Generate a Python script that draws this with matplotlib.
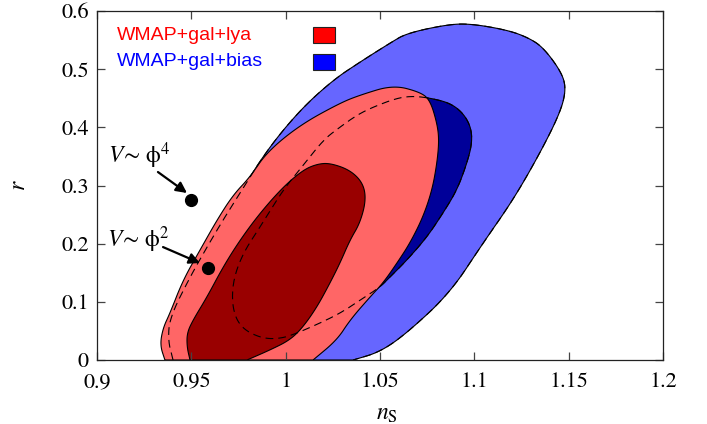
import numpy as np
import matplotlib
matplotlib.use("Agg")
import matplotlib.pyplot as plt
from matplotlib.patches import Polygon, Rectangle

# contour outlines, (n_s, r) pairs
bias95_ns = [0.9403, 0.9376, 0.9387, 0.9493, 0.9583, 0.9668, 0.9758, 0.9901, 1.0076,
             1.0251, 1.0394, 1.0553, 1.0643, 1.0871, 1.0993, 1.1173, 1.1279, 1.1364,
             1.1465, 1.1486, 1.1454, 1.1348, 1.1205, 1.1046, 1.0871, 1.0643, 1.0500, 1.0357]
bias95_r = [0.0, 0.0344, 0.0739, 0.1427, 0.1942, 0.2407, 0.2871, 0.3610, 0.4298,
            0.4813, 0.5123, 0.5449, 0.5621, 0.5776, 0.5776, 0.5673, 0.5552, 0.5380,
            0.4934, 0.4641, 0.4246, 0.3558, 0.2750, 0.2011, 0.1152, 0.0464, 0.0138, 0.0]

bias68_ns = [1.0675, 1.0765, 1.0871, 1.0940, 1.0982, 1.0988, 1.0961, 1.0908, 1.0834,
             1.0749, 1.0643, 1.0553, 1.0500, 1.0420, 1.0341, 1.0251, 1.0076, 0.9970,
             0.9864, 0.9758, 0.9716, 0.9721, 0.9774, 0.9864, 0.9986, 1.0060, 1.0198,
             1.0288, 1.0378, 1.0463, 1.0590]
bias68_r = [0.4538, 0.4504, 0.4418, 0.4246, 0.4005, 0.3730, 0.3386, 0.2922, 0.2527,
            0.2114, 0.1719, 0.1427, 0.1255, 0.1083, 0.0911, 0.0739, 0.0481, 0.0361,
            0.0378, 0.0567, 0.0911, 0.1375, 0.1839, 0.2286, 0.2922, 0.3215, 0.3782,
            0.4005, 0.4212, 0.4349, 0.4504]

lya95_ns = [0.9360, 0.9334, 0.9350, 0.9387, 0.9456, 0.9546, 0.9636, 0.9721, 0.9811,
            0.9901, 1.0076, 1.0288, 1.0394, 1.0569, 1.0712, 1.0765, 1.0802, 1.0813,
            1.0802, 1.0776, 1.0728, 1.0659, 1.0590, 1.0516, 1.0447, 1.0341, 1.0272, 1.0145]
lya95_r = [0.0, 0.0258, 0.0550, 0.0808, 0.1375, 0.1891, 0.2407, 0.2836, 0.3146,
           0.3576, 0.4040, 0.4418, 0.4555, 0.4727, 0.4607, 0.4469, 0.4074, 0.3782,
           0.3386, 0.2922, 0.2458, 0.2011, 0.1667, 0.1324, 0.1083, 0.0688, 0.0344, 0.0]

lya68_ns = [0.9493, 0.9477, 0.9477, 0.9509, 0.9583, 0.9668, 0.9758, 0.9864, 0.9986,
            1.0092, 1.0166, 1.0235, 1.0341, 1.0410, 1.0426, 1.0394, 1.0341, 1.0288,
            1.0235, 1.0166, 1.0092, 1.0023, 0.9917, 0.9795]
lya68_r = [0.0, 0.0223, 0.0464, 0.0688, 0.1083, 0.1599, 0.2063, 0.2527, 0.2974,
           0.3266, 0.3369, 0.3386, 0.3266, 0.3043, 0.2750, 0.2355, 0.2063, 0.1667,
           0.1324, 0.0911, 0.0567, 0.0344, 0.0172, 0.0]

# model predictions
model_labels = [r"$V\!\sim\,\mathrm{\phi}^{4}$", r"$V\!\sim\,\mathrm{\phi}^{2}$"]
model_ns = [0.9498, 0.9588]
model_r = [0.275, 0.158]

legend_labels = ["WMAP+gal+lya", "WMAP+gal+bias"]

SERIF = ["STIXGeneral", "Liberation Serif", "DejaVu Serif"]
plt.rcParams["font.family"] = SERIF
plt.rcParams["mathtext.fontset"] = "stix"


def smooth(ax, xs, ys, closed, iters=4):
    """Chaikin corner cutting in pixel space; open curves keep their ends."""
    P = ax.transData.transform(np.column_stack([xs, ys]))
    for _ in range(iters):
        if closed:
            Q = np.roll(P, -1, axis=0)
            P = np.column_stack([0.75 * P + 0.25 * Q, 0.25 * P + 0.75 * Q]).reshape(-1, 2)
        else:
            p, q = P[:-1], P[1:]
            mid = np.column_stack([0.75 * p + 0.25 * q, 0.25 * p + 0.75 * q]).reshape(-1, 2)
            P = np.vstack([P[:1], mid, P[-1:]])
    return ax.transData.inverted().transform(P)


fig = plt.figure(figsize=(7.07, 4.24), dpi=100)
ax = fig.add_axes([0.1372, 0.1509, 0.8006, 0.8231])
ax.set_xlim(0.9, 1.2)
ax.set_ylim(0, 0.6)

b95 = smooth(ax, bias95_ns, bias95_r, closed=False)
b68 = smooth(ax, bias68_ns, bias68_r, closed=True)
l95 = smooth(ax, lya95_ns, lya95_r, closed=False)
l68 = smooth(ax, lya68_ns, lya68_r, closed=False)

ax.add_patch(Polygon(b95, closed=True, fc="#6666ff", ec="black", lw=0.8, zorder=1.0))
ax.add_patch(Polygon(b68, closed=True, fc="#000099", ec="black", lw=0.8, zorder=1.05))
ax.add_patch(Polygon(l95, closed=True, fc="#ff6666", ec="black", lw=0.8, zorder=1.1))
ax.add_patch(Polygon(l68, closed=True, fc="#990000", ec="black", lw=0.8, zorder=1.15))

# bias contours shown dashed where the lya ones cover them
ax.plot(b95[:, 0], b95[:, 1], color="black", lw=0.8, dashes=(7, 4.5), zorder=1.2)
b68c = np.vstack([b68, b68[:1]])
ax.plot(b68c[:, 0], b68c[:, 1], color="black", lw=0.8, dashes=(7, 4.5), zorder=1.2)

ax.plot(model_ns, model_r, "o", color="black", ms=8.5, zorder=4)
text_pos = [(0.9058, 0.3386), (0.9053, 0.1942)]
arrow_from = [(0.9323, 0.3232), (0.9350, 0.1942)]
arrow_to = [(0.9477, 0.2871), (0.9546, 0.1667)]
for lab, tp, a0, a1 in zip(model_labels, text_pos, arrow_from, arrow_to):
    ax.text(tp[0], tp[1], lab, fontsize=17, ha="left", va="baseline", zorder=4)
    ax.annotate("", xy=a1, xytext=a0, zorder=4,
                arrowprops=dict(arrowstyle="-|>", color="black", lw=1.6,
                                mutation_scale=16, shrinkA=0, shrinkB=0))

# key, gnuplot style: text on the left, swatch on the right
for lab, col, yc in zip(legend_labels, ["#ff0000", "#0000ff"], [0.931, 0.854]):
    ax.text(0.0353, yc, lab, transform=ax.transAxes, color=col, fontsize=14,
            family=["Liberation Sans", "DejaVu Sans"], ha="left", va="center")
    ax.add_patch(Rectangle((0.3816, yc - 0.0235), 0.0389, 0.047, transform=ax.transAxes,
                           fc=col, ec="#222222", lw=0.8, zorder=3))

ax.set_xticks([0.9, 0.95, 1.0, 1.05, 1.1, 1.15, 1.2])
ax.set_xticklabels(["0.9", "0.95", "1", "1.05", "1.1", "1.15", "1.2"])
ax.set_yticks([0, 0.1, 0.2, 0.3, 0.4, 0.5, 0.6])
ax.set_yticklabels(["0", "0.1", "0.2", "0.3", "0.4", "0.5", "0.6"])
ax.tick_params(direction="in", length=5.8, width=0.9, color="#444444",
               top=True, right=True, labelsize=16, pad=6)
ax.tick_params(axis="x", pad=9)
for lbl in ax.get_xticklabels() + ax.get_yticklabels():
    lbl.set_fontfamily(SERIF)
for s in ax.spines.values():
    s.set_color("#222222")
    s.set_linewidth(0.9)

fig.text(19 / 707, 1 - 185 / 424, "$r$", fontsize=17, rotation=90, ha="center", va="center")
fig.text(387 / 707, 4 / 424, r"$n_{\mathrm{S}}$", fontsize=17, ha="center", va="baseline")

fig.savefig("out.png", dpi=100)
